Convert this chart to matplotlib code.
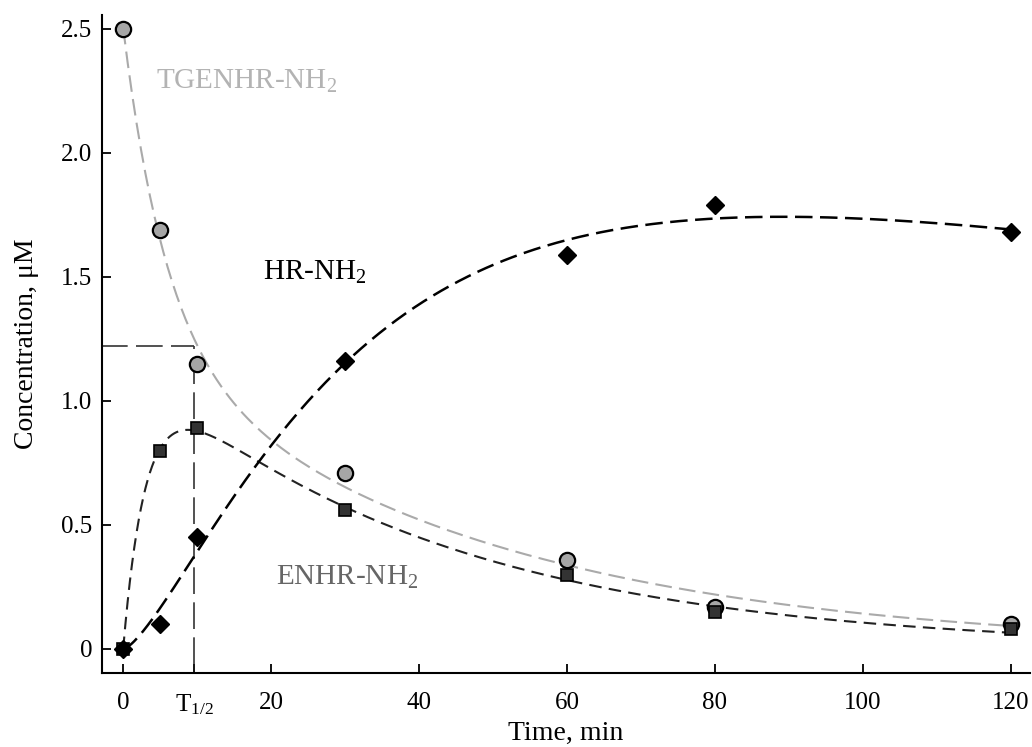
import itertools
import numpy as np
import matplotlib
matplotlib.use("Agg")
import matplotlib.pyplot as plt

plt.rcParams['font.family'] = ['Liberation Serif', 'DejaVu Serif']
plt.rcParams['mathtext.fontset'] = 'custom'
plt.rcParams['mathtext.rm'] = 'Liberation Serif'
plt.rcParams['mathtext.it'] = 'Liberation Serif:italic'

# data
time = [0, 5, 10, 30, 60, 80, 120]
tgenhr = [2.50, 1.69, 1.15, 0.71, 0.36, 0.17, 0.10]
enhr = [0.0, 0.80, 0.89, 0.56, 0.30, 0.15, 0.08]
hr = [0.0, 0.10, 0.45, 1.16, 1.59, 1.79, 1.68]
t_half = 9.6
c_half = 1.22
xticks = [0, t_half, 20, 40, 60, 80, 100, 120]
xticklabels = ['0', r'T$_{1/2}$', '20', '40', '60', '80', '100', '120']
yticks = [0, 0.5, 1.0, 1.5, 2.0, 2.5]
yticklabels = ['0', '0.5', '1.0', '1.5', '2.0', '2.5']


def fit(t, y, basis, grids):
    # grid over rate constants, least squares for amplitudes
    t = np.asarray(t, float)
    y = np.asarray(y, float)
    best = None
    for ks in itertools.product(*grids):
        A = np.column_stack(basis(t, *ks))
        coef, *_ = np.linalg.lstsq(A, y, rcond=None)
        err = np.sum((A @ coef - y) ** 2)
        if best is None or err < best[0]:
            best = (err, ks, coef)
    _, ks, coef = best
    return lambda tt: np.column_stack(basis(tt, *ks)) @ coef


rates = np.logspace(-2.5, 0, 40)
f_tg = fit(time, tgenhr, lambda t, k1, k2: [np.exp(-k1 * t), np.exp(-k2 * t)],
           [rates, rates])
f_en = fit(time, enhr, lambda t, k1, k2: [np.exp(-k2 * t) - np.exp(-k1 * t)],
           [np.logspace(-1.5, 0.3, 60), np.logspace(-2.5, -0.5, 60)])
f_hr = fit(time, hr, lambda t, k, n: [(1 - np.exp(-k * t)) ** n, t],
           [np.logspace(-2.5, 0, 120), np.linspace(1.2, 3.5, 24)])

tt = np.linspace(0, 120, 400)

fig = plt.figure(figsize=(10.32, 7.47), dpi=100)
ax = fig.add_axes([0.099, 0.099, 0.899, 0.881])

ax.plot(tt, f_tg(tt), color='#aaaaaa', lw=1.5, dashes=(8, 3.5), zorder=2)
ax.plot(tt, f_en(tt), color='#222222', lw=1.5, dashes=(6, 3.5), zorder=2)
ax.plot(tt, f_hr(tt), color='black', lw=1.8, dashes=(7, 3), zorder=2)

# half-life guide lines
ax.plot([-3, t_half], [c_half, c_half], color='#333333', lw=1.2, dashes=(16, 5), zorder=1)
ax.plot([t_half, t_half], [-0.2, c_half], color='#333333', lw=1.2, dashes=(16, 5), zorder=1)

ax.plot(time, tgenhr, 'o', ms=11, mfc='#a6a6a6', mec='black', mew=1.6, zorder=3)
ax.plot(time, enhr, 's', ms=9, mfc='#333333', mec='black', mew=1.2, zorder=4)
ax.plot(time, hr, 'D', ms=9, mfc='black', mec='black', zorder=5)

ax.text(4.4, 2.29, 'TGENHR-NH$_2$', color='#b3b3b3', fontsize=21, va='center')
ax.text(18.9, 1.52, 'HR-NH$_2$', color='black', fontsize=21, va='center')
ax.text(20.6, 0.29, 'ENHR-NH$_2$', color='#666666', fontsize=21, va='center')

ax.set_xlim(-2.84, 122.6)
ax.set_ylim(-0.097, 2.556)
ax.set_xticks(xticks)
ax.set_xticklabels(xticklabels)
ax.set_yticks(yticks)
ax.set_yticklabels(yticklabels)
ax.tick_params(direction='in', length=6.5, width=1.3, labelsize=18)
ax.tick_params(axis='x', pad=14)
ax.tick_params(axis='y', pad=7)
for s in ['top', 'right']:
    ax.spines[s].set_visible(False)
for s in ['left', 'bottom']:
    ax.spines[s].set_linewidth(1.5)

ax.set_xlabel('Time, min', fontsize=20, labelpad=3)
ax.set_ylabel('Concentration, μM', fontsize=20, labelpad=16)

fig.savefig('out.png', dpi=100)
